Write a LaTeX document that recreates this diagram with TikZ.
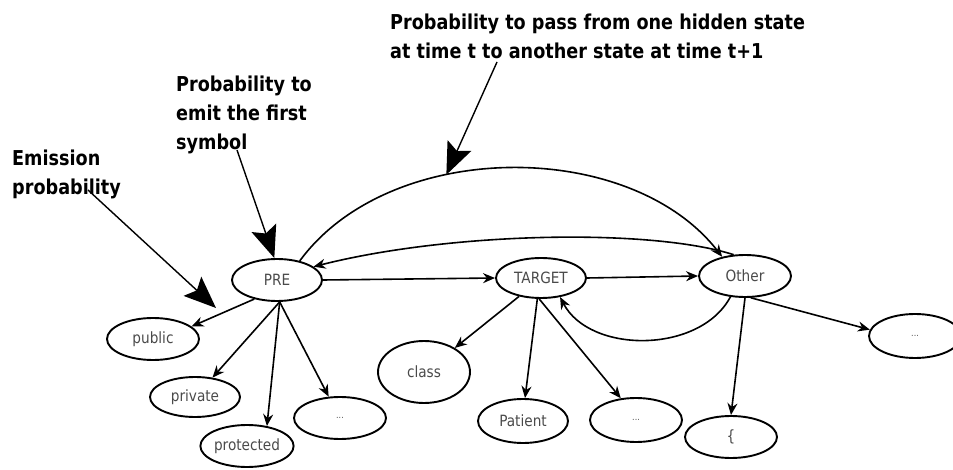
\documentclass[tikz,border=0pt]{standalone}
\usepackage{fontspec}
\usetikzlibrary{shapes.geometric,arrows.meta}
\newfontfamily\notefont[FakeStretch=0.86]{DejaVu Sans Bold}
\newfontfamily\labelfont[FakeStretch=0.88]{DejaVu Sans}
\definecolor{labelgray}{HTML}{4A4A4A}
\begin{document}
\begin{tikzpicture}[x=1pt,y=-1pt,
  state/.style={ellipse, draw, line width=1.9pt, inner sep=0pt,
    font=\labelfont\fontsize{15.5}{15.5}\selectfont, text=labelgray},
  dotstate/.style={state, font=\labelfont\fontsize{9}{9}\selectfont},
  edge/.style={line width=1.6pt, -{Stealth[length=12pt,width=10pt]}},
  note/.style={anchor=north west, inner sep=0pt, align=left,
    font=\notefont\fontsize{20.5}{29}\selectfont},
  pointer/.style={line width=1.4pt, -{Stealth[length=32pt,width=26pt,inset=6pt]}},
]
\useasboundingbox (0,0) rectangle (953,470);

% hidden states
\node[state, minimum width=90pt, minimum height=42pt] (PRE)    at (277,280) {PRE};
\node[state, minimum width=90pt, minimum height=40pt] (TARGET) at (541,278) {TARGET};
\node[state, minimum width=92pt, minimum height=42pt] (Other)  at (745,276) {Other};

% emitted symbols
\node[state, minimum width=92pt, minimum height=42pt] (public)    at (153,339) {public};
\node[state, minimum width=90pt, minimum height=40pt] (private)   at (195,397) {private};
\node[state, minimum width=92pt, minimum height=42pt] (protected) at (247,446) {protected};
\node[dotstate, minimum width=92pt, minimum height=42pt] (dotsA)  at (340,418) {...};
\node[state, minimum width=92pt, minimum height=62pt] (class)     at (424,372) {class};
\node[state, minimum width=90pt, minimum height=44pt] (Patient)   at (523,421) {Patient};
\node[dotstate, minimum width=92pt, minimum height=44pt] (dotsB)  at (636,420) {...};
\node[state, minimum width=92pt, minimum height=42pt] (brace)     at (731,437) {\{};
\node[dotstate, minimum width=92pt, minimum height=44pt] (dotsC)  at (915,336) {...};

% transitions
\draw[edge] (PRE.east) -- (TARGET.west);
\draw[edge] (TARGET.east) -- (Other.west);
\draw[edge] (Other.-125) .. controls (700,354) and (590,354) .. (TARGET.-45);
\draw[edge] (Other.118) .. controls (650,228) and (450,232) .. (PRE.20);
\draw[edge] (PRE.40) .. controls (390,138) and (630,138) .. coordinate[pos=0.37] (arcMark) (Other.140);

% emissions
\draw[edge] (PRE.-140) -- (public.18);
\draw[edge] (PRE.-83) -- (private.48);
\draw[edge] (PRE.-83) -- (protected.45);
\draw[edge] (PRE.-83) -- (dotsA.118);
\draw[edge] (TARGET.-140) -- (class.38);
\draw[edge] (TARGET.-100) -- (Patient.85);
\draw[edge] (TARGET.-95) -- (dotsB.125);
\draw[edge] (Other.-90) -- (brace.north);
\draw[edge] (Other.-75) -- (dotsC.172);

% annotations
\node[note] (emission) at (12,150) {Emission\\probability};
\node[note] (first) at (176,76) {Probability to\\emit the first\\symbol};
\node[note] (transition) at (390,14) {Probability to pass from one hidden state\\at time t to another state at time t+1};

\coordinate (emissionFrom) at (88,190);
\coordinate (emissionTip) at (216,308);
\coordinate (firstFrom) at (237,150);
\coordinate (transitionFrom) at (497,62);

\draw[pointer] (emissionFrom) -- (emissionTip);
\draw[pointer] (firstFrom) -- (PRE.97);
\draw[pointer] (transitionFrom) -- (arcMark);
\end{tikzpicture}
\end{document}
